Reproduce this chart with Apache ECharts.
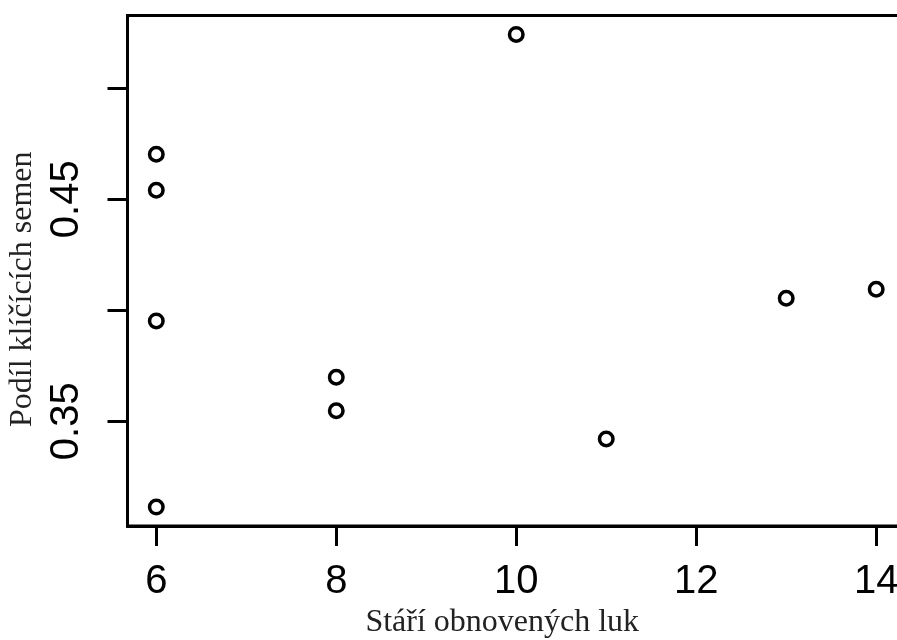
<!DOCTYPE html>
<html>
<head>
<meta charset="utf-8">
<script src="https://cdn.jsdelivr.net/npm/echarts@6/dist/echarts.min.js"></script>
<style>
  html, body { margin: 0; padding: 0; background: #fff; }
  #chart { width: 897px; height: 640px; }
</style>
</head>
<body>
<div id="chart"></div>
<script>
// Age of restored meadows vs. share of germinating seeds
const ages = [6, 6, 6, 6, 8, 8, 10, 11, 13, 14];
const germShare = [0.4703, 0.4541, 0.3952, 0.3113, 0.3698, 0.3547, 0.5243, 0.342, 0.4054, 0.4095];

const xTicks = [6, 8, 10, 12, 14];
const yTicks = [0.35, 0.40, 0.45, 0.50];
const yLabels = [0.35, 0.45];

const xTitle = 'Stáří obnovených luk';
const yTitle = 'Podíl klíčících semen';

// R-style 4% padding around the data range
function padRange(vals) {
  const lo = Math.min(...vals), hi = Math.max(...vals);
  const d = (hi - lo) * 0.04;
  return [lo - d, hi + d];
}
const [xMin, xMax] = padRange(ages);
const [yMin, yMax] = padRange(germShare);

const chart = echarts.init(document.getElementById('chart'));
chart.setOption({
  animation: false,
  backgroundColor: '#ffffff',
  grid: {
    left: 127.5, top: 15.5, right: -8, bottom: 114,
    outerBoundsMode: 'none',
    containLabel: false,
    show: true, borderColor: '#000', borderWidth: 3, backgroundColor: 'transparent'
  },
  xAxis: {
    type: 'value', min: xMin, max: xMax,
    name: xTitle, nameLocation: 'middle', nameGap: 80,
    nameTextStyle: { fontFamily: 'Liberation Serif', fontSize: 32, color: '#222', padding: [0, 28, 0, 0] },
    axisLine: { show: true, onZero: false, lineStyle: { color: '#000', width: 3 } },
    axisTick: { show: true, length: 20, customValues: xTicks, lineStyle: { color: '#000', width: 3 } },
    axisLabel: { customValues: xTicks, margin: 36, fontFamily: 'Liberation Sans', fontSize: 40, color: '#000' },
    splitLine: { show: false }
  },
  yAxis: {
    type: 'value', min: yMin, max: yMax,
    name: yTitle, nameLocation: 'middle', nameGap: 86, nameRotate: 90,
    nameTextStyle: { fontFamily: 'Liberation Serif', fontSize: 32, color: '#222', padding: [0, 37, 0, 0] },
    axisLine: { show: true, onZero: false, lineStyle: { color: '#000', width: 3 } },
    axisTick: { show: true, length: 20, customValues: yTicks, lineStyle: { color: '#000', width: 3 } },
    axisLabel: {
      customValues: yLabels, rotate: 90, margin: 41,
      fontFamily: 'Liberation Sans', fontSize: 40, color: '#000',
      formatter: v => v.toFixed(2)
    },
    splitLine: { show: false }
  },
  series: [{
    type: 'scatter',
    data: ages.map((a, i) => [a, germShare[i]]),
    symbol: 'circle',
    symbolSize: 13.5,
    itemStyle: { color: 'rgba(255,255,255,0)', borderColor: '#000', borderWidth: 3.5, opacity: 1 }
  }]
});
</script>
</body>
</html>
